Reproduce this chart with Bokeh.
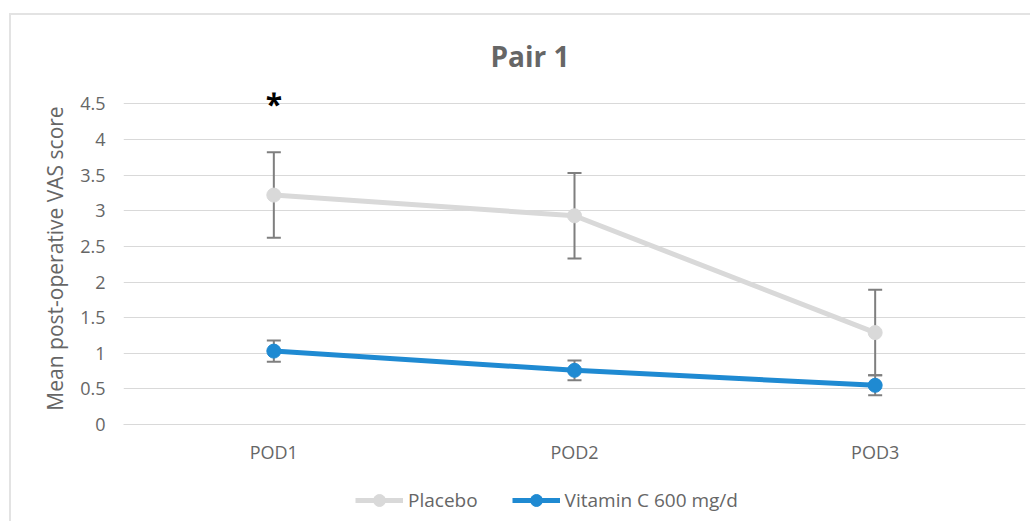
from bokeh.plotting import figure
from bokeh.layouts import column
from bokeh.models import (ColumnDataSource, Whisker, TeeHead, Legend, LegendItem,
                          FixedTicker, Range1d)
from bokeh.embed import file_html
from bokeh.resources import INLINE

categories = ["POD1", "POD2", "POD3"]
placebo = [3.22, 2.93, 1.29]
placebo_err = [0.60, 0.60, 0.60]
vitc = [1.03, 0.76, 0.55]
vitc_err = [0.15, 0.14, 0.14]
y_ticks = [0, 0.5, 1, 1.5, 2, 2.5, 3, 3.5, 4, 4.5]
y_tick_labels = ["0", "0.5", "1", "1.5", "2", "2.5", "3", "3.5", "4", "4.5"]
title_text = "Pair 1"
y_label = "Mean post-operative VAS score"
series_names = ["Placebo", "Vitamin C 600 mg/d"]
significant = ["POD1"]
sig_level = [4.51]

FONT = "Open Sans"
TXT = "#666666"
GRID = "#d9d9d9"
GRAY = "#d9d9d9"
BLUE = "#1f8ad2"
ERR = "#7f7f7f"
EDGE = "#e3e3e3"

xs = list(range(1, len(categories) + 1))

p = figure(width=1030, height=470, output_backend="svg", toolbar_location=None,
           x_range=Range1d(0.5, len(categories) + 0.5), y_range=Range1d(0, 4.66),
           min_border_left=123, min_border_right=5, min_border_top=92, min_border_bottom=46)
p.outline_line_color = None
p.background_fill_color = "white"
p.border_fill_color = None

p.title.text = title_text
p.title.align = "left"
p.title.offset = 367
p.title.text_font = FONT
p.title.text_font_size = "28px"
p.title.text_font_style = "bold"
p.title.text_color = TXT
p.title.standoff = 36

# axes
p.xaxis.ticker = FixedTicker(ticks=xs)
p.xaxis.major_label_overrides = {x: c for x, c in zip(xs, categories)}
p.yaxis.ticker = FixedTicker(ticks=y_ticks)
p.yaxis.major_label_overrides = {t: l for t, l in zip(y_ticks, y_tick_labels)}
for ax in (p.xaxis, p.yaxis):
    ax.major_tick_line_color = None
    ax.minor_tick_line_color = None
    ax.major_label_text_font = FONT
    ax.major_label_text_color = TXT
    ax.major_label_text_font_size = "18px"
p.yaxis.axis_line_color = None
p.xaxis.axis_line_color = GRID
p.xaxis.major_label_standoff = 9
p.yaxis.major_label_standoff = 12
p.yaxis.axis_label = y_label
p.yaxis.axis_label_text_font = FONT
p.yaxis.axis_label_text_font_size = "21px"
p.yaxis.axis_label_text_font_style = "normal"
p.yaxis.axis_label_text_color = TXT
p.yaxis.axis_label_standoff = 8
p.xgrid.grid_line_color = None
p.ygrid.grid_line_color = GRID
p.ygrid.grid_line_width = 1

src_p = ColumnDataSource(dict(x=xs, y=placebo,
                              lo=[m - e for m, e in zip(placebo, placebo_err)],
                              hi=[m + e for m, e in zip(placebo, placebo_err)]))
src_v = ColumnDataSource(dict(x=xs, y=vitc,
                              lo=[m - e for m, e in zip(vitc, vitc_err)],
                              hi=[m + e for m, e in zip(vitc, vitc_err)]))

line_kw = [dict(line_color=GRAY, line_width=5), dict(line_color=BLUE, line_width=5)]
mark_kw = [dict(size=14, fill_color=GRAY, line_color=GRAY),
           dict(size=14, fill_color=BLUE, line_color=BLUE)]

for src, lk, mk in zip((src_p, src_v), line_kw, mark_kw):
    p.line("x", "y", source=src, **lk)
    p.scatter("x", "y", source=src, **mk)

for src in (src_p, src_v):
    w = Whisker(base="x", upper="hi", lower="lo", source=src, line_color=ERR, line_width=2,
                upper_head=TeeHead(size=14, line_color=ERR, line_width=2),
                lower_head=TeeHead(size=14, line_color=ERR, line_width=2))
    p.add_layout(w)

# significance marker
sig_src = ColumnDataSource(dict(x=[xs[categories.index(c)] for c in significant], y=sig_level,
                                t=["*"] * len(significant)))
p.text("x", "y", text="t", source=sig_src, text_font_size="30px", text_color="black",
       text_font_style="bold", text_align="center", text_baseline="middle",
       text_font={"value": FONT})

# legend strip below the chart (its renderers hold the same series, kept out of view)
lf = figure(width=1030, height=51, output_backend="svg", toolbar_location=None,
            x_range=Range1d(100, 101), y_range=Range1d(100, 101),
            min_border_left=123, min_border_right=5, min_border_top=0, min_border_bottom=0)
lf.axis.visible = False
lf.grid.visible = False
lf.outline_line_color = None
lf.background_fill_color = None
lf.border_fill_color = None
items = []
for name, src, lk, mk in zip(series_names, (src_p, src_v), line_kw, mark_kw):
    r1 = lf.line("x", "y", source=src, **lk)
    r2 = lf.scatter("x", "y", source=src, **mk)
    items.append(LegendItem(label=name, renderers=[r1, r2]))
legend = Legend(items=items, orientation="horizontal", location=(232, 6),
                label_text_font=FONT, label_text_font_size="19px", label_text_color=TXT,
                glyph_width=48, glyph_height=30, label_standoff=5, spacing=34,
                padding=0, margin=0, border_line_color=None, background_fill_alpha=0)
lf.add_layout(legend, "center")

layout = column(p, lf, spacing=0)
layout.styles = {
    "background-color": "white",
    "background-image": f"linear-gradient({EDGE},{EDGE}), linear-gradient({EDGE},{EDGE})",
    "background-size": "2px 100%, 100% 2px",
    "background-position": "9px 13px, 9px 13px",
    "background-repeat": "no-repeat",
}

open("out.html", "w").write(file_html(layout, INLINE))
